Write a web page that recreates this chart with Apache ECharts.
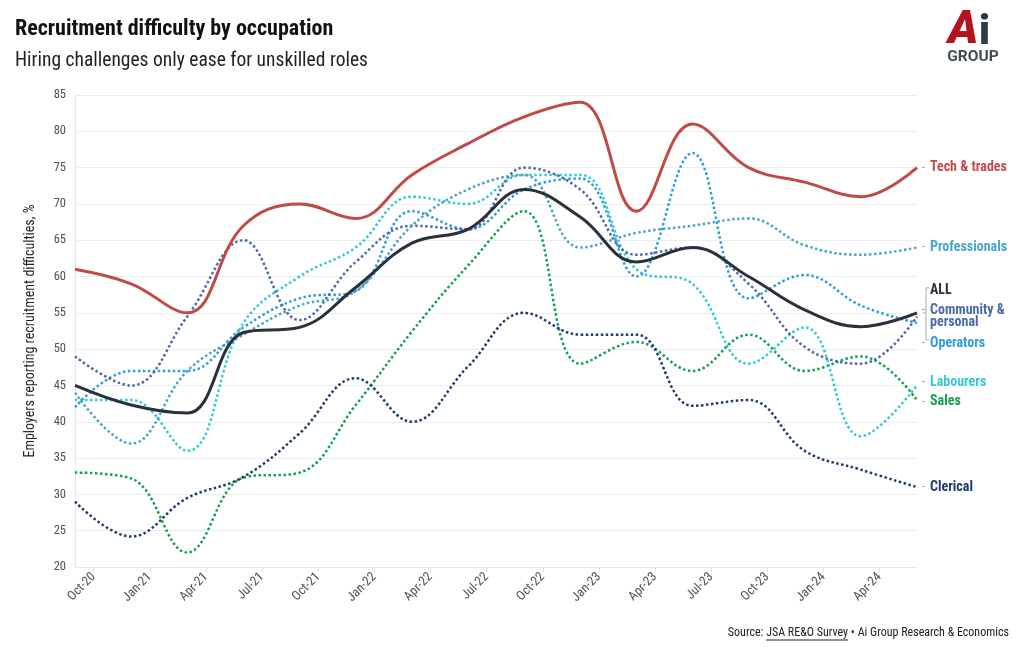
<!DOCTYPE html>
<html><head><meta charset="utf-8">
<script src="https://cdn.jsdelivr.net/npm/echarts@6/dist/echarts.min.js"></script>
<style>html,body{margin:0;padding:0;background:#fff}#c{width:1020px;height:650px}</style>
</head><body><div id="c"></div>
<script>
const FONT = "'Roboto Condensed','Liberation Sans Narrow','DejaVu Sans Condensed',Roboto,sans-serif";
const months = ['Sep-20','Oct-20','Nov-20','Dec-20','Jan-21','Feb-21','Mar-21','Apr-21','May-21','Jun-21','Jul-21','Aug-21','Sep-21','Oct-21','Nov-21','Dec-21','Jan-22','Feb-22','Mar-22','Apr-22','May-22','Jun-22','Jul-22','Aug-22','Sep-22','Oct-22','Nov-22','Dec-22','Jan-23','Feb-23','Mar-23','Apr-23','May-23','Jun-23','Jul-23','Aug-23','Sep-23','Oct-23','Nov-23','Dec-23','Jan-24','Feb-24','Mar-24','Apr-24','May-24','Jun-24'];
const tickLabels = ['Oct-20','Jan-21','Apr-21','Jul-21','Oct-21','Jan-22','Apr-22','Jul-22','Oct-22','Jan-23','Apr-23','Jul-23','Oct-23','Jan-24','Apr-24'];
const surveyDates = ['Sep-20','Dec-20','Mar-21','Jun-21','Sep-21','Dec-21','Mar-22','Jun-22','Sep-22','Dec-22','Mar-23','Jun-23','Sep-23','Dec-23','Mar-24','Jun-24'];

const techTrades   = [61, 59, 55, 67, 70, 68, 74, 78.3, 82, 84, 69, 81, 75, 73, 71, 75];
const professionals= [44, 37, 47, 52, 56, 58, 67, 72, 74, 64, 66, 67, 68, 64.3, 63, 64];
const allOcc       = [45, 42.3, 41.2, 52.3, 53, 58.5, 64.6, 66.5, 72, 68.2, 62, 64, 60, 55.4, 53.1, 55];
const community    = [49, 45, 54.5, 65, 54, 62, 67, 66.5, 75, 72, 63, 64, 59, 50.3, 48, 54.5];
const operators    = [42, 47, 47, 53, 57, 58, 69, 66.5, 72, 73.5, 60, 77, 57, 60.2, 56, 53.6];
const labourers    = [43, 43, 36, 53.6, 60, 64, 71, 70, 74, 74, 61, 59, 48, 53, 38, 45];
const sales        = [33, 32.2, 22, 32.3, 33, 42.3, 52.4, 61.5, 69, 48, 51, 47, 52, 47, 49, 43];
const clerical     = [29, 24.2, 29.5, 32.4, 38.4, 46, 40, 47.6, 55, 52, 52, 42.2, 43, 36, 33.4, 31];

const yTicks = {min: 20, max: 85, step: 5};

const seriesDefs = [
  {name: 'Sales', data: sales, color: '#13a050', dotted: true, dy: 2},
  {name: 'Clerical', data: clerical, color: '#1f3b6b', dotted: true, dy: 0},
  {name: 'Labourers', data: labourers, color: '#35c9d6', dotted: true, dy: -3},
  {name: 'Operators', data: operators, color: '#2f9ddc', dotted: true, dy: 20},
  {name: 'Community & personal', lines: ['Community &', 'personal'], data: community, color: '#4d6aa6', dotted: true, dy: 0, lh: 12},
  {name: 'Professionals', data: professionals, color: '#4aa5c4', dotted: true, dy: 0},
  {name: 'Tech & trades', data: techTrades, color: '#bf4b48', dotted: false, dy: 0},
  {name: 'ALL', data: allOcc, color: '#2b313c', dotted: false, dy: -22, noDash: true}
];

const chart = echarts.init(document.getElementById('c'), null, {renderer: 'canvas'});
const tickIdx = (i) => tickLabels.indexOf(months[i]) >= 0;

function labelText(s) {
  const lines = s.lines || [s.name];
  return lines.map((t, k) => ((k === 0 && !s.noDash) ? '{g|-}' : '{s|}') + '{n|' + t + '}').join('\n');
}

const series = seriesDefs.map(s => ({
  name: s.name,
  type: 'line',
  data: s.data.map((v, i) => [surveyDates[i], v]),
  smooth: 0.4,
  showSymbol: false,
  symbol: 'none',
  z: s.dotted ? 2 : 3,
  lineStyle: {color: s.color, width: s.dotted ? 2.5 : 3, type: s.dotted ? 'dotted' : 'solid'},
  itemStyle: {color: s.color},
  emphasis: {disabled: true},
  endLabel: {
    show: true,
    distance: 5,
    offset: [0, s.dy],
    formatter: () => labelText(s),
    rich: {
      g: {color: '#999', fontSize: 12, fontFamily: FONT, width: 8},
      s: {width: 8, fontSize: 12},
      n: {color: s.color, fontSize: 14, fontWeight: 'bold', fontFamily: FONT, lineHeight: s.lh || 16}
    }
  }
}));

chart.setOption({
  animation: false,
  backgroundColor: '#fff',
  textStyle: {fontFamily: FONT},
  title: [
    {text: 'Recruitment difficulty by occupation', left: 10, top: 13, textStyle: {fontSize: 22, fontWeight: 'bold', color: '#111', fontFamily: FONT}},
    {text: 'Hiring challenges only ease for unskilled roles', left: 10, top: 46, textStyle: {fontSize: 19.5, fontWeight: 'normal', color: '#222', fontFamily: FONT}}
  ],
  grid: {left: 75, right: 103, top: 95, bottom: 83, containLabel: false},
  xAxis: {
    type: 'category',
    data: months,
    boundaryGap: false,
    axisLine: {show: true, lineStyle: {color: '#e6e6e6'}},
    axisTick: {show: true, interval: (i) => tickIdx(i), length: 5, lineStyle: {color: '#ddd'}},
    axisLabel: {interval: (i) => tickIdx(i), rotate: 45, fontSize: 13, color: '#505050', fontFamily: FONT, margin: 8},
    splitLine: {show: false}
  },
  yAxis: {
    type: 'value',
    min: yTicks.min, max: yTicks.max, interval: yTicks.step,
    name: 'Employers reporting recruitment difficulties, %',
    nameLocation: 'middle', nameGap: 38,
    nameTextStyle: {fontSize: 14, color: '#222', fontFamily: FONT},
    axisLine: {show: true, lineStyle: {color: '#e6e6e6'}},
    axisTick: {show: false},
    axisLabel: {fontSize: 12.5, color: '#505050', fontFamily: FONT, margin: 9},
    splitLine: {lineStyle: {color: '#ececec', width: 1}}
  },
  series: series
});

function addGraphics() {
  const endX = chart.convertToPixel({xAxisIndex: 0}, 'Jun-24');
  const yAll = chart.convertToPixel({yAxisIndex: 0}, allOcc[allOcc.length - 1]);
  const bx = endX + 9;
  const top = yAll - 25, bot = yAll + 27;
  const ctx = document.createElement('canvas').getContext('2d');
  ctx.font = "12px " + FONT;
  const s1 = 'Source: ', s2 = 'JSA RE&O Survey', s3 = ' \u2022 Ai Group Research & Economics';
  const w1 = ctx.measureText(s1).width, w2 = ctx.measureText(s2).width, w3 = ctx.measureText(s3).width;
  const right = 1009, sy = 633;
  const sx = right - (w1 + w2 + w3);
  chart.setOption({graphic: [
    {type: 'polyline', shape: {points: [[bx + 3, top], [bx, top], [bx, bot], [bx + 3, bot]]}, style: {stroke: '#aaa', lineWidth: 1, fill: null}},
    {type: 'line', shape: {x1: bx, y1: yAll, x2: bx - 3, y2: yAll}, style: {stroke: '#aaa', lineWidth: 1}},
    {type: 'text', x: sx, y: sy, style: {text: s1 + s2 + s3, font: '12px ' + FONT, fill: '#222', textVerticalAlign: 'middle'}},
    {type: 'line', shape: {x1: sx + w1, y1: sy + 7, x2: sx + w1 + w2, y2: sy + 7}, style: {stroke: '#222', lineWidth: 1}},
    {type: 'text', x: 948, y: 8, style: {text: 'A', font: 'italic 900 46px Roboto', fill: '#b3131d'}},
    {type: 'text', x: 979, y: 14, style: {text: 'i', font: '900 40px Roboto', fill: '#2f3a45'}},
    {type: 'text', x: 973, y: 57, style: {text: 'GROUP', font: 'bold 15.5px Roboto', fill: '#434c55', textAlign: 'center', textVerticalAlign: 'middle'}}
  ]});
}
addGraphics();
</script>
</body></html>
